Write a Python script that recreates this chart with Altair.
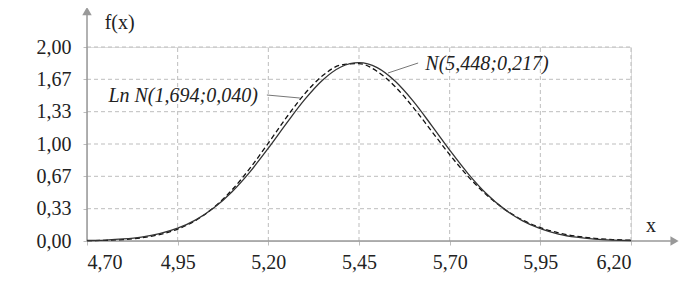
import altair as alt
import pandas as pd

# values
x_vals = [4.70, 4.75, 4.80, 4.85, 4.90, 4.95, 5.00, 5.05, 5.10, 5.15, 5.20, 5.25, 5.30,
          5.35, 5.40, 5.45, 5.50, 5.55, 5.60, 5.65, 5.70, 5.75, 5.80, 5.85, 5.90, 5.95,
          6.00, 6.05, 6.10, 6.15, 6.20]
normal_vals = [0.005, 0.010, 0.021, 0.041, 0.076, 0.132, 0.218, 0.342, 0.508, 0.716, 0.957,
               1.213, 1.457, 1.660, 1.794, 1.838, 1.787, 1.646, 1.439, 1.192, 0.937, 0.698,
               0.493, 0.331, 0.210, 0.127, 0.072, 0.039, 0.020, 0.010, 0.005]
lognormal_vals = [0.003, 0.007, 0.015, 0.033, 0.066, 0.123, 0.213, 0.347, 0.527, 0.753, 1.009,
                  1.274, 1.516, 1.705, 1.814, 1.829, 1.749, 1.590, 1.375, 1.133, 0.891, 0.669,
                  0.481, 0.331, 0.218, 0.138, 0.084, 0.049, 0.028, 0.015, 0.008]
x_ticks = [4.70, 4.95, 5.20, 5.45, 5.70, 5.95, 6.20]
y_ticks = [0.0, 0.333, 0.667, 1.0, 1.333, 1.667, 2.0]
label_ln = "Ln N(1,694;0,040)"
label_n = "N(5,448;0,217)"

FONT = "Liberation Serif"
GRID = "#bdbdbd"
AXIS = "#999999"

xscale = alt.Scale(domain=[4.70, 6.20], nice=False, zero=False)
yscale = alt.Scale(domain=[0, 2.0], nice=False, zero=False)
xaxis = alt.Axis(values=x_ticks, grid=False, domain=False, ticks=True, tickSize=6,
                 tickColor=GRID, tickDash=[4, 3], title=None,
                 labelExpr="replace(format(datum.value, '.2f'), '.', ',')",
                 labelFont=FONT, labelFontSize=20, labelColor="#222", labelPadding=5)
yaxis = alt.Axis(values=y_ticks, grid=False, domain=False, ticks=True, tickSize=5,
                 tickColor=GRID, tickDash=[4, 3], title=None,
                 labelExpr="replace(format(datum.value, '.2f'), '.', ',')",
                 labelFont=FONT, labelFontSize=20, labelColor="#222", labelPadding=11)

def X(f):
    return alt.X(f, type="quantitative", scale=xscale, axis=xaxis)

def Y(f):
    return alt.Y(f, type="quantitative", scale=yscale, axis=yaxis)

gh = pd.DataFrame({"y": y_ticks[1:], "x": 4.70, "x2": 6.20})
grid_h = alt.Chart(gh).mark_rule(color=GRID, strokeDash=[4, 3], strokeWidth=1).encode(
    x=X("x"), x2="x2", y=Y("y"))
gv = pd.DataFrame({"x": x_ticks[1:], "y": 0.0, "y2": 2.0})
grid_v = alt.Chart(gv).mark_rule(color=GRID, strokeDash=[4, 3], strokeWidth=1).encode(
    x=X("x"), y=Y("y"), y2="y2")

ax_x = alt.Chart(pd.DataFrame({"x": [4.70], "x2": [6.31], "y": [0.0]})).mark_rule(
    color=AXIS, strokeWidth=1.5).encode(x=X("x"), x2="x2", y=Y("y"))
ax_y = alt.Chart(pd.DataFrame({"x": [4.70], "y": [0.0], "y2": [2.36]})).mark_rule(
    color=AXIS, strokeWidth=1.5).encode(x=X("x"), y=Y("y"), y2="y2")
arr_x = alt.Chart(pd.DataFrame({"x": [6.32], "y": [0.0]})).mark_point(
    shape="triangle-right", filled=True, color=AXIS, size=90, opacity=1).encode(x=X("x"), y=Y("y"))
arr_y = alt.Chart(pd.DataFrame({"x": [4.70], "y": [2.37]})).mark_point(
    shape="triangle-up", filled=True, color=AXIS, size=90, opacity=1).encode(x=X("x"), y=Y("y"))

df = pd.DataFrame({"x": x_vals, "n": normal_vals, "ln": lognormal_vals})
line_n = alt.Chart(df).mark_line(color="#333", strokeWidth=1.3, interpolate="monotone").encode(
    x=X("x"), y=Y("n"))
line_ln = alt.Chart(df).mark_line(color="#111", strokeWidth=1.3, strokeDash=[5, 3],
                                  interpolate="monotone").encode(x=X("x"), y=Y("ln"))

leaders = pd.DataFrame({"x": [5.196, 5.613], "y": [1.505, 1.835],
                        "x2": [5.287, 5.530], "y2": [1.474, 1.732]})
lead = alt.Chart(leaders).mark_rule(color="#777", strokeWidth=1).encode(
    x=X("x"), y=Y("y"), x2="x2", y2="y2")

texts = pd.DataFrame({"x": [4.965, 5.803], "y": [1.49, 1.82], "t": [label_ln, label_n]})
txt = alt.Chart(texts).mark_text(font=FONT, fontSize=20, fontStyle="italic", color="#222").encode(
    x=X("x"), y=Y("y"), text="t:N")

titles = pd.DataFrame({"x": [4.790, 6.255], "y": [2.25, 0.15], "t": ["f(x)", "x"]})
ttl = alt.Chart(titles).mark_text(font=FONT, fontSize=20, color="#222").encode(
    x=X("x"), y=Y("y"), text="t:N")

chart = alt.layer(grid_h, grid_v, ax_x, ax_y, arr_x, arr_y, line_ln, line_n, lead, txt, ttl).properties(
    width=544, height=194,
    padding={"left": 79, "top": 39, "right": 48, "bottom": 35},
    autosize=alt.AutoSizeParams(type="none"),
).configure_view(stroke=None).configure(background="white")

chart.save("out.html", embed_options={"renderer": "svg", "actions": False})
